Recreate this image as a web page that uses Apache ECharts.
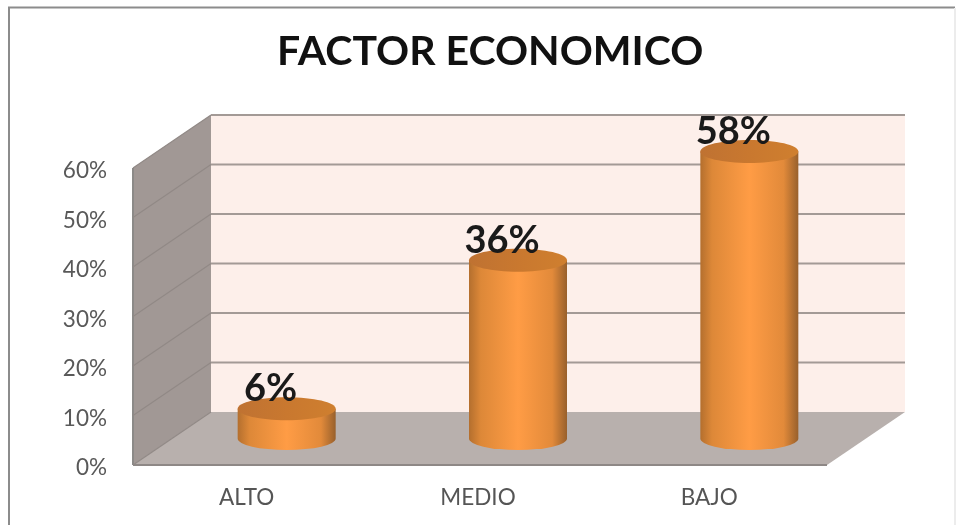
<!DOCTYPE html>
<html>
<head>
<meta charset="utf-8">
<style>html,body{margin:0;padding:0;background:#fff}#c{width:959px;height:525px}</style>
<script src="https://cdn.jsdelivr.net/npm/echarts@6/dist/echarts.min.js"></script>
</head>
<body>
<div id="c"></div>
<script>
const titleText = 'FACTOR ECONOMICO';
const categories = ['ALTO', 'MEDIO', 'BAJO'];
const values = [6, 36, 58];
const tickValues = [0, 10, 20, 30, 40, 50, 60];
const depthX = 78, depthY = -53;
const FONT = 'Lato, "Open Sans", sans-serif';

const chart = echarts.init(document.getElementById('c'), null, {renderer: 'canvas'});

function poly(points, fill) {
  return {type: 'polygon', shape: {points}, style: {fill}};
}

const bodyGrad = new echarts.graphic.LinearGradient(0, 0, 1, 0, [
  {offset: 0, color: '#B46F2E'},
  {offset: 0.12, color: '#DD8838'},
  {offset: 0.5, color: '#FF9C45'},
  {offset: 0.85, color: '#E28A3A'},
  {offset: 1, color: '#98602C'}
]);
const topGrad = new echarts.graphic.LinearGradient(0, 0, 1, 0, [
  {offset: 0, color: '#BF7232'},
  {offset: 0.5, color: '#C9782F'},
  {offset: 1, color: '#CF7F2F'}
]);

chart.setOption({
  animation: false,
  backgroundColor: '#fff',
  title: {
    text: titleText, left: 272, top: 26,
    textStyle: {fontFamily: FONT, fontWeight: 'bold', fontSize: 41, color: '#111'}
  },
  grid: {left: 133, top: 168, width: 694, height: 297},
  xAxis: {
    type: 'category', data: categories,
    axisLine: {show: false}, axisTick: {show: false},
    axisLabel: {fontFamily: FONT, fontSize: 22.5, color: '#555', margin: 21, padding: [0, 4, 0, 0]}
  },
  yAxis: {
    type: 'value', min: 0, max: 60, interval: 10,
    axisLine: {show: false}, axisTick: {show: false}, splitLine: {show: false},
    axisLabel: {fontFamily: FONT, fontSize: 22.5, color: '#595959', margin: 26, verticalAlign: 'top', lineHeight: 6, formatter: '{value}%'}
  },
  graphic: [
    {type: 'polyline', silent: true, z: -1,
      shape: {points: [[9, 525], [9, 7.5], [955, 7.5]]},
      style: {stroke: '#8c8c8c', lineWidth: 2, fill: null}},
    {type: 'line', silent: true, z: -1,
      shape: {x1: 955, y1: 8, x2: 955, y2: 525},
      style: {stroke: '#ececec', lineWidth: 2}}
  ],
  series: [
    {
      type: 'custom', coordinateSystem: 'cartesian2d', silent: true, z: 1,
      data: [[0, 0]],
      renderItem(params, api) {
        const c = params.coordSys;
        const L = c.x, R = c.x + c.width, T = c.y, B = c.y + c.height;
        return {type: 'group', children: [
          poly([[L + depthX, T + depthY], [R + depthX, T + depthY], [R + depthX, B + depthY], [L + depthX, B + depthY]], '#FDEFEA'),
          poly([[L, T], [L + depthX, T + depthY], [L + depthX, B + depthY], [L, B]], '#A19895'),
          poly([[L, B], [L + depthX, B + depthY], [R + depthX, B + depthY], [R, B]], '#B8B0AD'),
          {type: 'line', shape: {x1: L, y1: T, x2: L, y2: B}, style: {stroke: '#8C8A88', lineWidth: 2}}
        ]};
      }
    },
    {
      type: 'custom', coordinateSystem: 'cartesian2d', silent: true, z: 2,
      data: tickValues.map(v => [0, v]),
      renderItem(params, api) {
        const c = params.coordSys;
        const y = api.coord([0, api.value(1)])[1];
        const L = c.x, R = c.x + c.width;
        const isBase = api.value(1) === 0;
        return {type: 'group', children: [
          {type: 'line', shape: {x1: L, y1: y, x2: L + depthX, y2: y + depthY},
            style: {stroke: '#918986', lineWidth: 1.2}},
          isBase
            ? {type: 'line', shape: {x1: L, y1: y, x2: R, y2: y}, style: {stroke: '#8E8886', lineWidth: 2}}
            : {type: 'line', shape: {x1: L + depthX, y1: y + depthY, x2: R + depthX, y2: y + depthY},
                style: {stroke: '#A39A96', lineWidth: 2}}
        ]};
      }
    },
    {
      type: 'custom', coordinateSystem: 'cartesian2d', silent: true, z: 3,
      data: values.map((v, i) => [i, v]),
      encode: {x: 0, y: 1},
      renderItem(params, api) {
        const base = api.coord([api.value(0), 0]);
        const top = api.coord([api.value(0), api.value(1)]);
        const rx = 49, ry = 11.5;
        const cx = base[0] + 38;
        const by = base[1] - 26.5;
        const ty = top[1] - 26.5;
        const d = `M${cx - rx} ${ty} L${cx - rx} ${by} A${rx} ${ry} 0 0 0 ${cx + rx} ${by} L${cx + rx} ${ty} Z`;
        return {type: 'group', children: [
          {type: 'path', shape: {pathData: d, x: cx - rx, y: ty, width: 2 * rx, height: by - ty + ry},
            style: {fill: bodyGrad}},
          {type: 'ellipse', shape: {cx, cy: ty, rx, ry}, style: {fill: topGrad}},
          {type: 'text', x: cx - 16, y: ty - 20,
            style: {text: api.value(1) + '%', align: 'center', verticalAlign: 'middle',
              fontFamily: FONT, fontSize: 38, fontWeight: 'bold', fill: '#1a1a1a'}}
        ]};
      }
    }
  ]
});
</script>
</body>
</html>
